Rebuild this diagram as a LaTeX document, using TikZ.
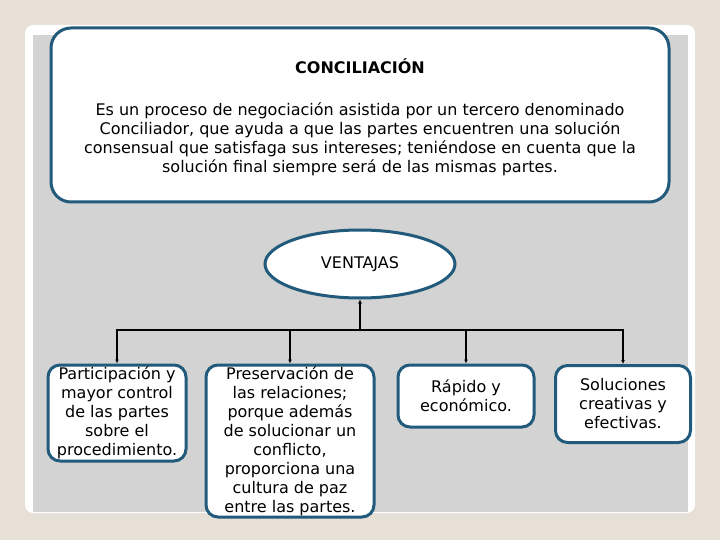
\documentclass[tikz,border=0pt]{standalone}
\usepackage{fontspec}
\setmainfont{DejaVu Sans}
\usetikzlibrary{shapes.geometric,arrows.meta}
\definecolor{bd}{HTML}{215A7A}
\definecolor{bg}{HTML}{E6E0D6}
\definecolor{pn}{HTML}{D3D3D3}
\tikzset{
 box/.style={draw=bd,line width=3pt,fill=white,rounded corners=12pt,align=center,font=\fontsize{16}{19}\selectfont,inner sep=0pt},
 conn/.style={line width=1.5pt,-{Latex[length=4pt,width=4pt]}}
}
\begin{document}
\begin{tikzpicture}[x=1pt,y=-1pt]
\fill[bg] (0,0) rectangle (720,540);
\fill[white,rounded corners=8pt] (25,25) rectangle (695,513);
\fill[pn] (33,35) rectangle (688,512);
\node[box,minimum width=618pt,minimum height=174pt,rounded corners=20pt] (top) at (360,115) {};
\node[font=\bfseries\fontsize{16}{19}\selectfont] (t) at (360,66) {CONCILIACIÓN};
\node[align=center,font=\fontsize{16}{19}\selectfont] (d) at (360,139) {Es un proceso de negociación asistida por un tercero denominado\\Conciliador, que ayuda a que las partes encuentren una solución\\consensual que satisfaga sus intereses; teniéndose en cuenta que la\\solución final siempre será de las mismas partes.};
\node[ellipse,draw=bd,line width=3pt,fill=white,minimum width=190pt,minimum height=68pt,font=\fontsize{16}{19}\selectfont] (v) at (360,264) {VENTAJAS};
\node[box,minimum width=138pt,minimum height=96pt] (b1) at (117,413) {Participación y\\mayor control\\de las partes\\sobre el\\procedimiento.};
\node[box,minimum width=168pt,minimum height=152pt] (b2) at (290,441) {Preservación de\\las relaciones;\\porque además\\de solucionar un\\conflicto,\\proporciona una\\cultura de paz\\entre las partes.};
\node[box,minimum width=136pt,minimum height=62pt] (b3) at (466,396) {Rápido y\\económico.};
\node[box,minimum width=135pt,minimum height=77pt] (b4) at (623,404) {Soluciones\\creativas y\\efectivas.};
\coordinate (j) at (360,330);
\draw[conn] (j) -- (v.south);
\draw[conn] (j) -| (b1.north);
\draw[conn] (j) -| (b2.north);
\draw[conn] (j) -| (b3.north);
\draw[conn] (j) -| (b4.north);
\end{tikzpicture}
\end{document}
